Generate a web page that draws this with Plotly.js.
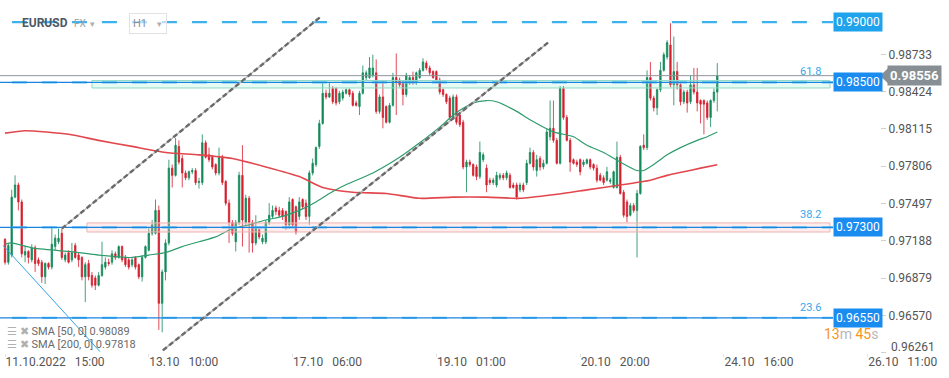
<!DOCTYPE html>
<html><head><meta charset="utf-8">
<script src="https://cdn.plot.ly/plotly-3.0.1.min.js"></script>
<style>html,body{margin:0;padding:0;background:#fff}#chart{width:949px;height:378px}</style>
</head><body><div id="chart"></div>
<script>
const symbol = 'EURUSD';
const open = [0.9720,0.9701,0.9707,0.9755,0.9765,0.9751,0.9707,0.9710,0.9703,0.9713,0.9703,0.9701,0.9689,0.9700,0.9697,0.9714,0.9718,0.9725,0.9703,0.9709,
0.9703,0.9715,0.9707,0.9705,0.9689,0.9700,0.9690,0.9688,0.9682,0.9690,0.9697,0.9701,0.9701,0.9708,0.9705,0.9714,0.9705,0.9703,0.9699,0.9705,
0.9699,0.9689,0.9705,0.9711,0.9725,0.9725,0.9744,0.9667,0.9693,0.9717,0.9779,0.9773,0.9797,0.9787,0.9775,0.9771,0.9776,0.9777,0.9767,0.9767,
0.9800,0.9790,0.9788,0.9782,0.9775,0.9788,0.9768,0.9750,0.9734,0.9718,0.9734,0.9773,0.9734,0.9754,0.9734,0.9717,0.9728,0.9718,0.9718,0.9734,
0.9739,0.9746,0.9744,0.9744,0.9743,0.9732,0.9753,0.9747,0.9739,0.9753,0.9750,0.9739,0.9775,0.9782,0.9797,0.9816,0.9841,0.9838,0.9845,0.9845,
0.9834,0.9837,0.9841,0.9844,0.9841,0.9833,0.9830,0.9841,0.9854,0.9854,0.9856,0.9858,0.9826,0.9838,0.9830,0.9817,0.9831,0.9854,0.9852,0.9850,
0.9840,0.9850,0.9854,0.9850,0.9854,0.9860,0.9866,0.9862,0.9859,0.9859,0.9852,0.9844,0.9840,0.9837,0.9821,0.9838,0.9823,0.9817,0.9780,0.9784,
0.9782,0.9780,0.9772,0.9786,0.9779,0.9769,0.9767,0.9765,0.9771,0.9773,0.9771,0.9773,0.9765,0.9765,0.9761,0.9765,0.9767,0.9783,0.9792,0.9777,
0.9787,0.9780,0.9783,0.9805,0.9812,0.9802,0.9783,0.9845,0.9821,0.9802,0.9786,0.9784,0.9786,0.9782,0.9783,0.9786,0.9782,0.9779,0.9773,0.9771,
0.9769,0.9768,0.9763,0.9763,0.9788,0.9759,0.9751,0.9740,0.9748,0.9744,0.9758,0.9798,0.9796,0.9854,0.9837,0.9829,0.9844,0.9860,0.9871,0.9881,
0.9848,0.9859,0.9848,0.9834,0.9842,0.9834,0.9848,0.9842,0.9835,0.9835,0.9833,0.9821,0.9835,0.9842];
const high = [0.9721,0.9717,0.9761,0.9773,0.9767,0.9753,0.9715,0.9711,0.9716,0.9715,0.9705,0.9703,0.9701,0.9701,0.9731,0.9724,0.9729,0.9729,0.9709,0.9711,
0.9717,0.9717,0.9709,0.9706,0.9701,0.9703,0.9693,0.9690,0.9693,0.9718,0.9705,0.9704,0.9711,0.9710,0.9715,0.9715,0.9707,0.9705,0.9705,0.9706,
0.9700,0.9707,0.9715,0.9730,0.9736,0.9753,0.9748,0.9695,0.9720,0.9786,0.9782,0.9804,0.9802,0.9790,0.9777,0.9777,0.9779,0.9779,0.9771,0.9807,
0.9802,0.9796,0.9790,0.9783,0.9796,0.9790,0.9769,0.9753,0.9736,0.9736,0.9776,0.9798,0.9757,0.9756,0.9736,0.9740,0.9729,0.9724,0.9736,0.9750,
0.9748,0.9748,0.9747,0.9746,0.9744,0.9755,0.9754,0.9748,0.9755,0.9754,0.9753,0.9777,0.9787,0.9797,0.9819,0.9850,0.9844,0.9850,0.9847,0.9846,
0.9843,0.9844,0.9845,0.9845,0.9843,0.9835,0.9843,0.9864,0.9860,0.9871,0.9873,0.9869,0.9840,0.9852,0.9831,0.9833,0.9858,0.9874,0.9854,0.9852,
0.9858,0.9856,0.9859,0.9859,0.9862,0.9870,0.9868,0.9864,0.9860,0.9860,0.9854,0.9845,0.9841,0.9839,0.9840,0.9840,0.9825,0.9819,0.9786,0.9786,
0.9783,0.9782,0.9801,0.9792,0.9782,0.9771,0.9771,0.9776,0.9775,0.9775,0.9777,0.9775,0.9767,0.9767,0.9767,0.9767,0.9786,0.9796,0.9794,0.9790,
0.9789,0.9786,0.9812,0.9835,0.9835,0.9804,0.9847,0.9847,0.9823,0.9804,0.9787,0.9786,0.9787,0.9786,0.9787,0.9787,0.9783,0.9782,0.9775,0.9773,
0.9780,0.9771,0.9777,0.9801,0.9790,0.9761,0.9753,0.9750,0.9750,0.9761,0.9798,0.9807,0.9860,0.9867,0.9839,0.9845,0.9867,0.9875,0.9885,0.9899,
0.9888,0.9867,0.9850,0.9844,0.9844,0.9856,0.9862,0.9862,0.9836,0.9836,0.9835,0.9836,0.9845,0.9866];
const low = [0.9699,0.9699,0.9705,0.9754,0.9744,0.9705,0.9701,0.9700,0.9701,0.9693,0.9698,0.9684,0.9683,0.9695,0.9695,0.9711,0.9716,0.9703,0.9701,0.9700,
0.9701,0.9704,0.9697,0.9686,0.9668,0.9686,0.9680,0.9678,0.9681,0.9689,0.9695,0.9698,0.9699,0.9703,0.9704,0.9701,0.9697,0.9695,0.9697,0.9695,
0.9687,0.9685,0.9704,0.9710,0.9723,0.9724,0.9645,0.9643,0.9686,0.9715,0.9763,0.9772,0.9782,0.9763,0.9769,0.9769,0.9774,0.9765,0.9762,0.9765,
0.9787,0.9784,0.9778,0.9773,0.9773,0.9765,0.9748,0.9717,0.9723,0.9710,0.9732,0.9714,0.9732,0.9709,0.9709,0.9715,0.9720,0.9716,0.9716,0.9732,
0.9737,0.9740,0.9738,0.9736,0.9728,0.9729,0.9730,0.9724,0.9736,0.9745,0.9736,0.9732,0.9773,0.9780,0.9795,0.9815,0.9836,0.9837,0.9832,0.9831,
0.9832,0.9835,0.9840,0.9838,0.9830,0.9830,0.9823,0.9840,0.9852,0.9853,0.9854,0.9824,0.9824,0.9812,0.9816,0.9816,0.9830,0.9823,0.9846,0.9831,
0.9838,0.9848,0.9848,0.9848,0.9853,0.9859,0.9860,0.9856,0.9853,0.9850,0.9840,0.9838,0.9832,0.9819,0.9819,0.9815,0.9813,0.9778,0.9759,0.9780,
0.9772,0.9769,0.9770,0.9784,0.9759,0.9765,0.9765,0.9763,0.9769,0.9769,0.9769,0.9762,0.9762,0.9753,0.9759,0.9759,0.9765,0.9782,0.9777,0.9772,
0.9777,0.9778,0.9782,0.9802,0.9800,0.9782,0.9782,0.9819,0.9801,0.9776,0.9782,0.9780,0.9773,0.9780,0.9782,0.9778,0.9777,0.9767,0.9768,0.9765,
0.9768,0.9766,0.9762,0.9762,0.9757,0.9738,0.9734,0.9739,0.9742,0.9705,0.9757,0.9794,0.9794,0.9835,0.9826,0.9823,0.9842,0.9859,0.9869,0.9846,
0.9831,0.9844,0.9831,0.9832,0.9825,0.9832,0.9840,0.9826,0.9816,0.9807,0.9819,0.9813,0.9833,0.9826];
const close = [0.9701,0.9715,0.9755,0.9765,0.9751,0.9708,0.9710,0.9705,0.9713,0.9700,0.9700,0.9689,0.9700,0.9697,0.9716,0.9721,0.9721,0.9705,0.9707,0.9701,
0.9709,0.9705,0.9703,0.9689,0.9699,0.9689,0.9682,0.9682,0.9690,0.9699,0.9701,0.9700,0.9708,0.9705,0.9714,0.9703,0.9699,0.9697,0.9703,0.9697,
0.9689,0.9705,0.9714,0.9725,0.9732,0.9744,0.9667,0.9693,0.9717,0.9779,0.9773,0.9798,0.9784,0.9775,0.9771,0.9776,0.9777,0.9767,0.9768,0.9800,
0.9788,0.9786,0.9780,0.9775,0.9788,0.9767,0.9750,0.9734,0.9725,0.9734,0.9773,0.9736,0.9754,0.9734,0.9717,0.9729,0.9722,0.9721,0.9734,0.9740,
0.9744,0.9743,0.9740,0.9739,0.9732,0.9751,0.9732,0.9726,0.9751,0.9747,0.9739,0.9775,0.9783,0.9796,0.9816,0.9841,0.9838,0.9841,0.9834,0.9833,
0.9841,0.9842,0.9844,0.9840,0.9831,0.9831,0.9841,0.9858,0.9858,0.9862,0.9862,0.9826,0.9838,0.9821,0.9817,0.9831,0.9854,0.9850,0.9848,0.9840,
0.9856,0.9854,0.9850,0.9858,0.9860,0.9867,0.9862,0.9858,0.9854,0.9852,0.9842,0.9840,0.9834,0.9821,0.9838,0.9817,0.9815,0.9780,0.9784,0.9782,
0.9773,0.9772,0.9792,0.9790,0.9765,0.9767,0.9769,0.9773,0.9773,0.9771,0.9775,0.9763,0.9763,0.9755,0.9765,0.9761,0.9783,0.9792,0.9780,0.9786,
0.9780,0.9783,0.9809,0.9812,0.9802,0.9783,0.9845,0.9821,0.9802,0.9784,0.9783,0.9782,0.9776,0.9784,0.9786,0.9780,0.9779,0.9769,0.9769,0.9767,
0.9776,0.9769,0.9776,0.9788,0.9758,0.9740,0.9739,0.9748,0.9744,0.9758,0.9797,0.9796,0.9854,0.9837,0.9829,0.9844,0.9860,0.9873,0.9883,0.9848,
0.9859,0.9848,0.9834,0.9842,0.9833,0.9848,0.9842,0.9833,0.9832,0.9832,0.9821,0.9835,0.9842,0.98556];

const sma50Idx = [0,2,8,19,28,38,43,48,53,58,63,68,73,78,83,88,93,97,101,110,118,124,130,135,140,144,147,153,157,164,170,174,179,184,189,191,194,198,202,207,210,213];
const sma50 = [0.9716,0.9717,0.9713,0.9710,0.9707,0.9705,0.9707,0.9709,0.9714,0.9718,0.9722,0.9729,0.9732,0.9736,0.9739,0.9744,0.9751,0.9758,0.9764,0.9775,0.9788,0.9800,0.9813,0.9825,0.9833,0.9835,0.9834,0.9826,0.9819,0.9809,0.9805,0.9798,0.9792,0.9784,0.9777,0.9777,0.9782,0.9790,0.9796,0.9802,0.9805,0.98089];
const sma200Idx = [0,6,19,28,38,48,58,68,78,88,95,104,114,124,134,144,154,164,174,184,193,198,203,208,213];
const sma200 = [0.9808,0.9810,0.9807,0.9802,0.9797,0.9792,0.9790,0.9787,0.9780,0.9772,0.9763,0.9759,0.9758,0.9754,0.9755,0.9755,0.9754,0.9757,0.9761,0.9765,0.9769,0.9773,0.9776,0.9779,0.97818];

const tickIndex = [0,43,86,129,172,215,258];
const tickLabels = ['11.10.2022\u00a0\u00a0\u00a015:00','13.10\u00a0\u00a0\u00a010:00','17.10\u00a0\u00a0\u00a006:00','19.10\u00a0\u00a0\u00a001:00','20.10\u00a0\u00a0\u00a020:00','24.10\u00a0\u00a0\u00a016:00','26.10\u00a0\u00a0\u00a011:00'];
const priceTicks = [0.96261,0.96570,0.96879,0.97188,0.97497,0.97806,0.98115,0.98424,0.98733];
const levels = [0.99000,0.98500,0.97300,0.96550];
const fibLabels = ['61.8','38.2','23.6'];
const fibZoneGreen = [0.98454,0.98516];
const fibZonePink = [0.97261,0.97336];
const lastPrice = 0.98556;
const channelUpper = [[17,0.9729],[94.2,0.9904]];
const channelLower = [[47.2,0.9628],[162.4,0.9883]];
const blueTrend = [[-0.6,0.9715],[28.4,0.9627]];
const timer = ['13','m ','45','s'];

const FONT = 'Roboto, "Open Sans", sans-serif';
const bars = open.map((_, i) => i);
const yRange = [0.962585, 0.991828];
const xRange = [-1.5, 261.66];
const PW = 880, PH = 353;

const traces = [
  {type:'scatter', mode:'lines', x:sma200Idx, y:sma200, line:{color:'#e2474d', width:1.6, shape:'spline', smoothing:0.6}, hoverinfo:'skip'},
  {type:'scatter', mode:'lines', x:sma50Idx, y:sma50, line:{color:'#2e9c6c', width:1.2, shape:'spline', smoothing:0.6}, hoverinfo:'skip'},
  {type:'candlestick', x:bars, open:open, high:high, low:low, close:close,
   increasing:{line:{color:'#14895a', width:0.8}, fillcolor:'#14895a'},
   decreasing:{line:{color:'#d4202e', width:0.8}, fillcolor:'#d4202e'},
   whiskerwidth:0, hoverinfo:'skip'}
];

const shapes = [];
shapes.push({type:'rect', xref:'x', yref:'y', x0:26, x1:246.7, y0:fibZoneGreen[0], y1:fibZoneGreen[1], fillcolor:'rgba(120,225,190,0.18)', line:{color:'#8fdcc4', width:1}, layer:'above'});
shapes.push({type:'rect', xref:'x', yref:'y', x0:24.5, x1:246.7, y0:fibZonePink[0], y1:fibZonePink[1], fillcolor:'rgba(250,190,190,0.28)', line:{color:'#f0b2b2', width:1}, layer:'above'});
shapes.push({type:'line', xref:'paper', yref:'y', x0:0, x1:1, y0:lastPrice, y1:lastPrice, line:{color:'#8e959b', width:1}, layer:'above'});
levels.forEach((L, k) => {
  shapes.push({type:'line', xref:'x', yref:'y', x0:-6.9, x1:247.6, y0:L, y1:L, line:{color:k===0?'#3fb2ee':'#62c4f6', width:2.2, dash:'15px,15px'}, layer:'above'});
  if (k > 0) shapes.push({type:'line', xref:'x', yref:'y', x0:-1.5, x1:247.6, y0:L, y1:L, line:{color:'#1b84e0', width:1.2}, layer:'above'});
});
[channelUpper, channelLower].forEach(c => {
  shapes.push({type:'line', xref:'x', yref:'y', x0:c[0][0], y0:c[0][1], x1:c[1][0], y1:c[1][1], line:{color:'#b8b8b8', width:1.5}, layer:'above'});
  shapes.push({type:'line', xref:'x', yref:'y', x0:c[0][0], y0:c[0][1], x1:c[1][0], y1:c[1][1], line:{color:'#6a6a6a', width:2.4, dash:'5px,3px'}, layer:'above'});
});
shapes.push({type:'line', xref:'x', yref:'y', x0:blueTrend[0][0], y0:blueTrend[0][1], x1:blueTrend[1][0], y1:blueTrend[1][1], line:{color:'#2ea6e6', width:1}, layer:'above'});
const lpY = (lastPrice - yRange[0]) / (yRange[1] - yRange[0]);
const dy = 7.5 / PH;
shapes.push({type:'path', xref:'paper', yref:'paper', path:`M 1 ${lpY} L ${1+8/PW} ${lpY+dy} L ${1+8/PW} ${lpY-dy} Z`, fillcolor:'#878f95', line:{width:0}});

const annotations = [];
levels.forEach((L, k) => {
  annotations.push({xref:'paper', x:833/PW, xanchor:'left', yref:'y', y:L, yanchor:'middle', text:L.toFixed(5), showarrow:false,
    bgcolor:k===0?'#1fa3ec':'#1a8cf0', font:{color:'#ffffff', size:12, family:FONT}, borderpad:2});
});
annotations.push({xref:'paper', x:1+7/PW, xanchor:'left', yref:'y', y:lastPrice, yanchor:'middle', text:'<b>'+lastPrice.toFixed(5)+'</b>', showarrow:false,
  bgcolor:'#878f95', font:{color:'#ffffff', size:13, family:FONT}, borderpad:2});
const fibY = [fibZoneGreen[1], fibZonePink[1], levels[3]];
fibLabels.forEach((t, k) => {
  annotations.push({xref:'paper', x:810/PW, xanchor:'center', yref:'y', y:fibY[k], yanchor:'bottom', yshift:k===2?2:0, text:t, showarrow:false,
    font:{color:'#35a7ea', size:11, family:FONT}});
});
annotations.push({xref:'paper', x:823/PW, xanchor:'left', yref:'paper', y:1-334/PH, yanchor:'middle', showarrow:false,
  text:`<span style="color:#f7941d">${timer[0]}</span><span style="color:#b8b8b8">${timer[1]}</span><span style="color:#f7941d">${timer[2]}</span><span style="color:#b8b8b8">${timer[3]}</span>`,
  font:{size:14, family:FONT}, borderpad:0});
// lowest price tick label, lifted above the time labels as in the reference
annotations.push({xref:'paper', x:890/PW, xanchor:'left', yref:'paper', y:1-347/PH, yanchor:'middle', showarrow:false,
  text:priceTicks[0].toFixed(5), font:{size:12, color:'#555', family:FONT}, borderpad:0});
const legendRows = [['SMA [50, 0]', sma50[sma50.length-1]], ['SMA [200, 0]', sma200[sma200.length-1]]];
legendRows.forEach((r, k) => {
  annotations.push({xref:'paper', x:6/PW, xanchor:'left', yref:'paper', y:1-(331+13*k)/PH, yanchor:'middle', showarrow:false,
    text:`<span style="color:#b0b0b0">☰ ✖</span> ${r[0]} ${r[1].toFixed(5)}`, font:{size:11, color:'#6a6a6a', family:FONT}, borderpad:0});
});
annotations.push({xref:'paper', x:20/PW, xanchor:'left', yref:'paper', y:1-23/PH, yanchor:'middle', showarrow:false,
  text:'<b>'+symbol+'</b>', font:{size:12, color:'#4d5964', family:FONT}});
annotations.push({xref:'paper', x:72/PW, xanchor:'left', yref:'paper', y:1-23/PH, yanchor:'middle', showarrow:false,
  text:'FX <span style="color:#b0b0b0;font-size:8px">▼</span>', font:{size:10, color:'#9aa1a7', family:FONT}});
annotations.push({xref:'paper', x:129/PW, xanchor:'left', yref:'paper', y:1-23/PH, yanchor:'middle', showarrow:false,
  text:'H1 \u00a0\u00a0<span style="color:#b0b0b0;font-size:8px">▼</span>', font:{size:11, color:'#8a9096', family:FONT},
  bordercolor:'#dfe3e6', borderwidth:1, borderpad:3, bgcolor:'rgba(255,255,255,0.6)'});

const layout = {
  width:949, height:378,
  margin:{l:0, r:69, t:0, b:25, pad:0},
  paper_bgcolor:'#ffffff', plot_bgcolor:'#ffffff',
  showlegend:false, hovermode:false, boxgap:0.4,
  font:{family:FONT, color:'#4a4a4a'},
  xaxis:{range:xRange, tickmode:'array', tickvals:tickIndex, ticktext:tickLabels, ticklabelposition:'outside right',
    showgrid:false, zeroline:false, showline:false, ticks:'outside', ticklen:3, tickcolor:'#e2e2e2', ticklabelstandoff:-2,
    tickfont:{size:12, color:'#555', family:FONT}, rangeslider:{visible:false}, fixedrange:true},
  yaxis:{side:'right', range:yRange, tickmode:'array', tickvals:priceTicks, ticktext:priceTicks.map((v, k) => k === 0 ? '' : v.toFixed(5)),
    showgrid:false, zeroline:false, showline:false, ticks:'outside', ticklen:5, tickcolor:'#d0d0d0',
    tickfont:{size:12, color:'#555', family:FONT}, fixedrange:true},
  shapes:shapes, annotations:annotations
};
Plotly.newPlot('chart', traces, layout, {staticPlot:true, displayModeBar:false});
</script></body></html>
